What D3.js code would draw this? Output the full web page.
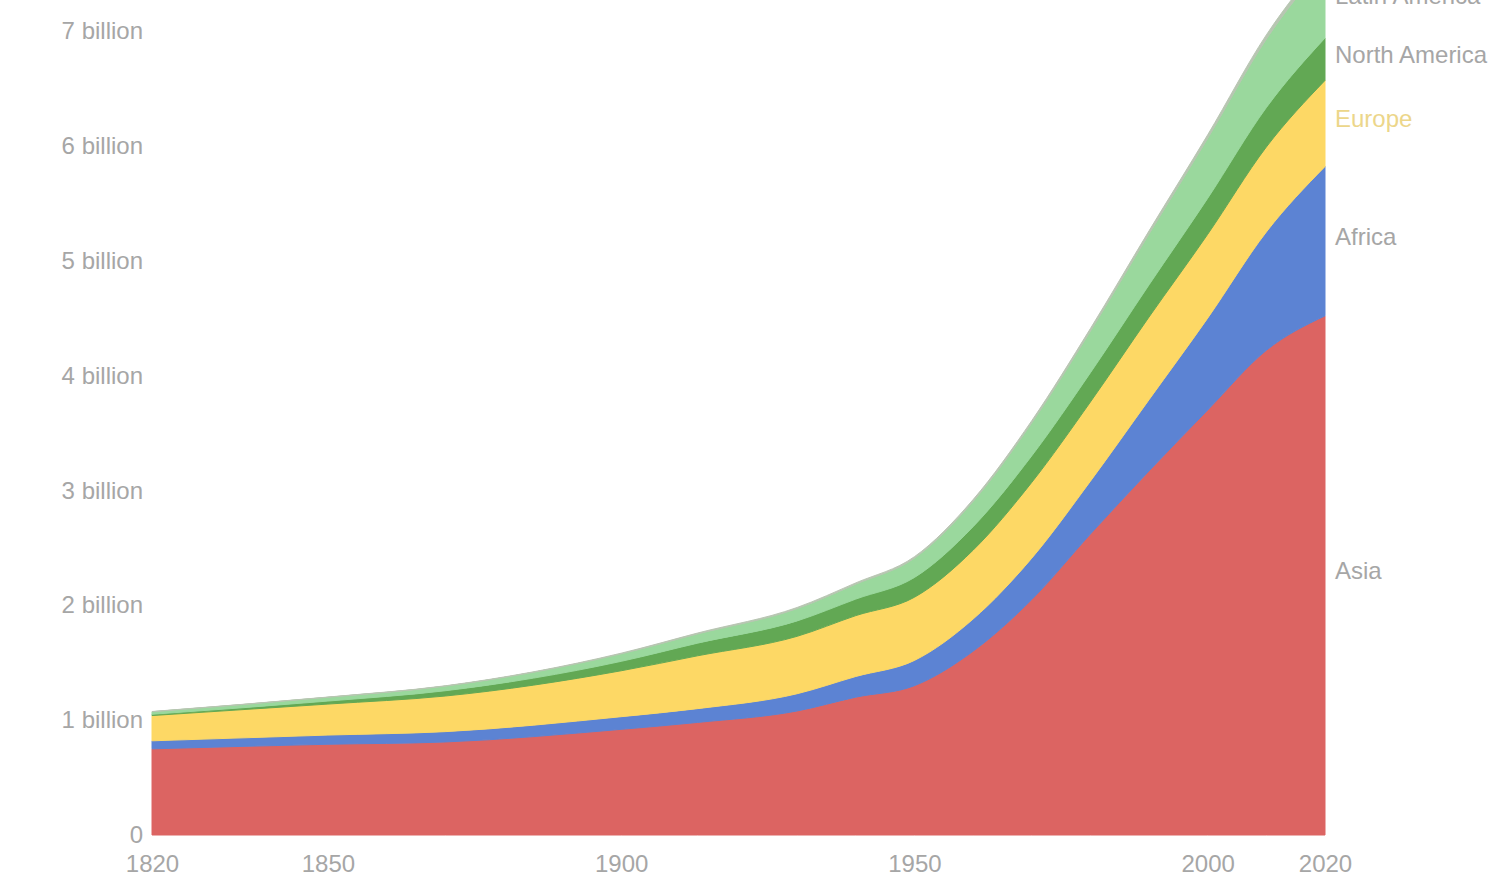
<!DOCTYPE html>
<html>
<head>
<meta charset="utf-8">
<script src="https://cdn.jsdelivr.net/npm/d3@7"></script>
<style>
    body { margin: 0; background: #fff; }
    text { font-family: "Liberation Sans", Arial, sans-serif; }
</style>
</head>
<body>
<div id="chart"></div>
<script>
// population in billions
const years = [1820, 1850, 1870, 1900, 1913, 1930, 1940, 1950, 1960, 1970, 1980, 1990, 2000, 2010, 2020];
const asia = [0.75, 0.79, 0.81, 0.92, 0.98, 1.08, 1.20, 1.30, 1.60, 2.05, 2.62, 3.17, 3.70, 4.22, 4.52];
const africa = [0.07, 0.08, 0.09, 0.11, 0.12, 0.15, 0.18, 0.22, 0.28, 0.36, 0.46, 0.62, 0.80, 1.03, 1.30];
const europe = [0.22, 0.27, 0.31, 0.40, 0.46, 0.50, 0.53, 0.55, 0.60, 0.66, 0.69, 0.72, 0.73, 0.74, 0.75];
const northAmerica = [0.011, 0.026, 0.046, 0.082, 0.11, 0.134, 0.144, 0.172, 0.204, 0.231, 0.254, 0.28, 0.313, 0.343, 0.369];
const latinAmerica = [0.022, 0.033, 0.04, 0.065, 0.08, 0.107, 0.13, 0.168, 0.22, 0.287, 0.362, 0.443, 0.522, 0.596, 0.654];
const oceania = [0.002, 0.002, 0.003, 0.006, 0.008, 0.01, 0.011, 0.013, 0.016, 0.019, 0.023, 0.027, 0.031, 0.037, 0.043];

const regions = ["Asia", "Africa", "Europe", "North America", "Latin America", "Oceania"];
const seriesValues = [asia, africa, europe, northAmerica, latinAmerica, oceania];
const colors = ["#dc6462", "#5c83d3", "#fdd865", "#62a854", "#9ad89d", "#b8c6b2"];
const labelColors = ["#a6a6a6", "#a6a6a6", "#ecd68a", "#a6a6a6", "#a6a6a6", "#a6a6a6"];

const yTicks = [0, 1, 2, 3, 4, 5, 6, 7];
const yTickLabels = ["0", "1 billion", "2 billion", "3 billion", "4 billion", "5 billion", "6 billion", "7 billion"];
const xTicks = [1820, 1850, 1900, 1950, 2000, 2020];

const width = 1499, height = 879;

// build rows for d3.stack
let rows = years.map((yr, i) => {
    let row = {year: yr};
    regions.forEach((r, k) => row[r] = seriesValues[k][i]);
    return row;
});

const stacked = d3.stack().keys(regions)(rows);

const x = d3.scaleLinear().domain([1820, 2020]).range([152, 1325]);
const y = d3.scaleLinear().domain([0, 7]).range([835, 31]);

var svg = d3.select("#chart").append("svg")
    .attr("width", width)
    .attr("height", height);

const area = d3.area()
    .curve(d3.curveMonotoneX)
    .x(d => x(d.data.year))
    .y0(d => y(d[0]))
    .y1(d => y(d[1]));

svg.append("g").selectAll("path")
    .data(stacked)
    .join("path")
    .attr("d", area)
    .attr("fill", (d, i) => colors[i])
    .attr("stroke", (d, i) => colors[i])
    .attr("stroke-width", 1);

// y axis, labels only
const yAxis = d3.axisLeft(y)
    .tickValues(yTicks)
    .tickFormat((d, i) => yTickLabels[i])
    .tickSize(0)
    .tickPadding(0);

let gy = svg.append("g").attr("transform", "translate(143,0)").call(yAxis);
gy.select(".domain").remove();
gy.selectAll("text").attr("fill", "#a6a6a6").attr("font-size", 24);

// x axis, labels only
const xAxis = d3.axisBottom(x)
    .tickValues(xTicks)
    .tickFormat(d3.format("d"))
    .tickSize(0)
    .tickPadding(0);

let gx = svg.append("g").attr("transform", "translate(0,855)").call(xAxis);
gx.select(".domain").remove();
gx.selectAll("text").attr("fill", "#a6a6a6").attr("font-size", 24);

// region labels on the right, near the middle of each band at the last year
const last = years.length - 1;
svg.append("g").selectAll("text")
    .data(stacked)
    .join("text")
    .attr("x", x(years[last]) + 10)
    .attr("y", d => y((d[last][0] + d[last][1]) / 2))
    .attr("dy", "0.15em")
    .attr("font-size", 24)
    .attr("fill", (d, i) => labelColors[i])
    .text(d => d.key);
</script>
</body>
</html>
